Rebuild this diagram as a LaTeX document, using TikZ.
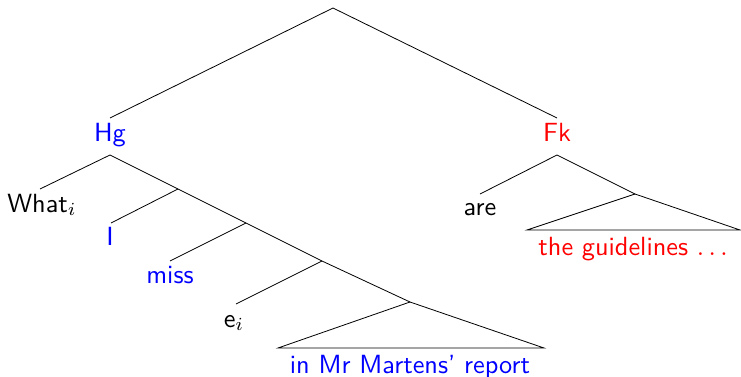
\documentclass[tikz,border=0pt]{standalone}
\begin{document}
\begin{tikzpicture}[x=1pt,y=-1pt,
  edge/.style={line width=0.8pt, black},
  lbl/.style={font=\sffamily, scale=2.63, inner sep=0pt, anchor=base}]
\useasboundingbox (0,0) rectangle (741,377);
% labels
\node[lbl, blue] (hg) at (110,142) {Hg};
\node[lbl, red] (fk) at (557,142) {Fk};
\node[lbl] (what) at (42,212) {What$_i$};
\node[lbl, blue] (i) at (110,245) {I};
\node[lbl, blue] (miss) at (170,283) {miss};
\node[lbl] (ei) at (234,327) {e$_i$};
\node[lbl, blue] (pp) at (410,373) {in Mr Martens' report};
\node[lbl] (are) at (480,215) {are};
\node[lbl, red] (np) at (633,255) {the guidelines $\ldots$};
% points
\coordinate (root) at (333,8);
\coordinate (hgtop) at (110,118);
\coordinate (fktop) at (557,118);
\coordinate (hgbot) at (110,155);
\coordinate (whattop) at (40,189);
\coordinate (s1) at (178,189);
\coordinate (itop) at (111,223);
\coordinate (s2) at (246,223);
\coordinate (misstop) at (170,261);
\coordinate (s3) at (322,261);
\coordinate (eitop) at (236,304);
\coordinate (t1) at (410,302);
\coordinate (t1l) at (278,348);
\coordinate (t1r) at (544,348);
\coordinate (fkbot) at (557,155);
\coordinate (aretop) at (480,194);
\coordinate (t2) at (635,194);
\coordinate (t2l) at (527,230);
\coordinate (t2r) at (740,230);
% edges
\draw[edge] (hgtop) -- (root) -- (fktop);
\draw[edge] (whattop) -- (hgbot) -- (s1) -- (s2) -- (s3) -- (t1);
\draw[edge] (s1) -- (itop);
\draw[edge] (s2) -- (misstop);
\draw[edge] (s3) -- (eitop);
\draw[edge] (t1) -- (t1l) -- (t1r) -- cycle;
\draw[edge] (aretop) -- (fkbot) -- (t2);
\draw[edge] (t2) -- (t2l) -- (t2r) -- cycle;
\end{tikzpicture}
\end{document}
